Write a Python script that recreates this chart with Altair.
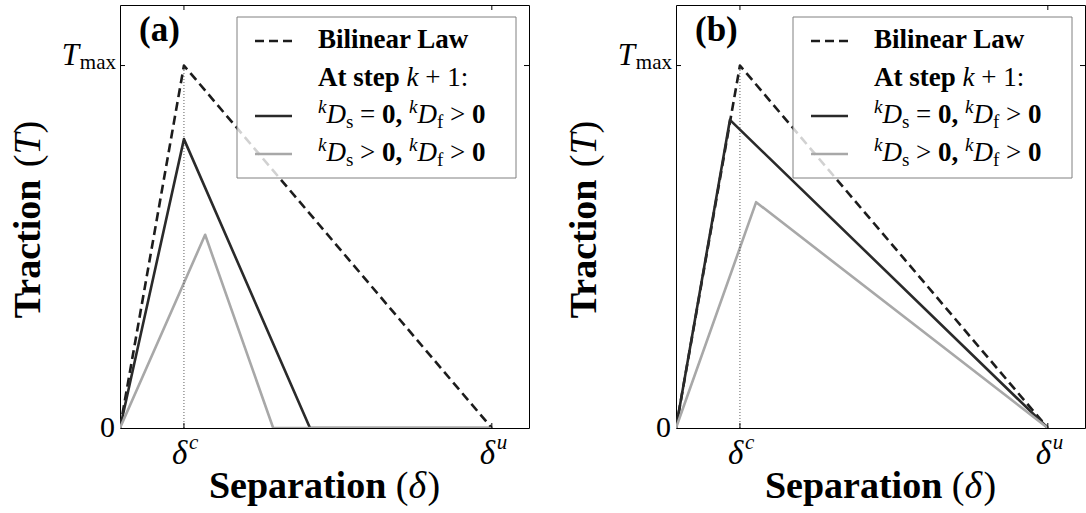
import altair as alt
import pandas as pd

FONT = "Liberation Serif"

# Separation in units of delta_u, traction in units of T_max
delta_c = 0.172
delta_u = 1.0
x_max = 1.1
y_max = 1.167

bilinear_sep = [0.0, 0.172, 1.0]
bilinear_trac = [0.0, 1.0, 0.0]

# (a): undamaged stiffness vs damaged stiffness
a_stiff_sep = [0.0, 0.172, 0.511, 1.0]
a_stiff_trac = [0.0, 0.797, 0.0, 0.0]
a_soft_sep = [0.0, 0.229, 0.412, 1.0]
a_soft_trac = [0.0, 0.533, 0.0, 0.0]

# (b)
b_stiff_sep = [0.0, 0.145, 1.0]
b_stiff_trac = [0.0, 0.850, 0.0]
b_soft_sep = [0.0, 0.2155, 1.0]
b_soft_trac = [0.0, 0.623, 0.0]

x_tick_values = [delta_c, delta_u]
x_tick_sups = ["c", "u"]

W, H = 409, 423
DASHED = "#1c1c1c"
DARK = "#2a2a2a"
GREY = "#a8a8a8"

# advance widths (per 1000 em) used to chain mixed-style text runs
_REG = {" ": 250, "(": 333, ")": 333, ",": 250, ":": 278, "+": 564, "=": 564, ">": 564,
        "0": 500, "1": 500, "a": 444, "m": 778, "x": 500, "s": 389, "f": 333}
_BOLD = {" ": 250, "(": 333, ")": 333, ",": 250, ":": 333, "0": 500, "A": 722, "B": 667,
         "L": 667, "S": 556, "T": 667, "a": 500, "c": 444, "e": 444, "i": 278, "l": 278,
         "n": 556, "o": 500, "p": 556, "r": 444, "s": 389, "t": 333, "w": 722}
_ITAL = {"T": 556, "D": 722, "k": 444, "c": 444, "u": 500, "δ": 500}
_TABLES = {"r": _REG, "b": _BOLD, "i": _ITAL}


def run_width(text, style, size):
    table = _TABLES[style]
    return sum(table.get(ch, 500) for ch in text) / 1000.0 * size


_one = pd.DataFrame({"k": [0]})


def text_run(text, x, y, size, style, angle=0):
    kw = dict(text=text, font=FONT, fontSize=size, align="left",
              baseline="alphabetic", color="black")
    if style == "b":
        kw["fontWeight"] = "bold"
    if style == "i":
        kw["fontStyle"] = "italic"
    if angle:
        kw["angle"] = angle
    return alt.Chart(_one).mark_text(**kw).encode(x=alt.value(float(x)), y=alt.value(float(y)))


def rich(parts, x0, y0, anchor="left", vertical=False):
    """parts: (text, style, size, baseline shift); spaces only advance the pen."""
    total = sum(run_width(t, s, z) for t, s, z, _ in parts)
    pos = -total / 2 if anchor == "center" else 0.0
    layers = []
    for t, s, z, shift in parts:
        core = t.strip(" ")
        lead = len(t) - len(t.lstrip(" "))
        pos += run_width(" " * lead, s, z)
        if core:
            if vertical:
                layers.append(text_run(core, x0 + shift, y0 - pos, z, s, angle=270))
            else:
                layers.append(text_run(core, x0 + pos, y0 + shift, z, s))
        pos += run_width(t[lead:], s, z)
    return layers


LEG_MAIN, LEG_SMALL = 27, 19


def legend_layers():
    layers = [
        alt.Chart(_one).mark_rect(fill="white", fillOpacity=0.8, stroke="#808080",
                                  strokeWidth=1).encode(
            x=alt.value(117), x2=alt.value(396), y=alt.value(12), y2=alt.value(173)),
        alt.Chart(_one).mark_rule(color=DASHED, strokeWidth=2.6, strokeDash=[9, 5]).encode(
            x=alt.value(135), x2=alt.value(172), y=alt.value(36)),
        alt.Chart(_one).mark_rule(color=DARK, strokeWidth=2.6).encode(
            x=alt.value(135), x2=alt.value(172), y=alt.value(111)),
        alt.Chart(_one).mark_rule(color=GREY, strokeWidth=2.6).encode(
            x=alt.value(135), x2=alt.value(172), y=alt.value(149)),
    ]
    tx = 198
    layers += rich([("Bilinear Law", "b", LEG_MAIN, 0)], tx, 43)
    layers += rich([("At step ", "b", LEG_MAIN, 0), ("k", "i", LEG_MAIN, 0),
                    (" + 1:", "r", LEG_MAIN, 0)], tx, 81)
    for rel, base in (("=", 118), (">", 156)):
        layers += rich([("k", "i", LEG_SMALL, -10), ("D", "i", LEG_MAIN, 0),
                        ("s", "r", LEG_SMALL, 5), (f" {rel} ", "r", LEG_MAIN, 0),
                        ("0,", "b", LEG_MAIN, 0), (" ", "r", LEG_MAIN, 0),
                        ("k", "i", LEG_SMALL, -10), ("D", "i", LEG_MAIN, 0),
                        ("f", "r", LEG_SMALL, 5), (" > ", "r", LEG_MAIN, 0),
                        ("0", "b", LEG_MAIN, 0)], tx, base)
    return layers


def panel(letter, stiff_sep, stiff_trac, soft_sep, soft_trac):
    xs = alt.Scale(domain=[0, x_max], nice=False, zero=False)
    ys = alt.Scale(domain=[0, y_max], nice=False, zero=False)
    X = alt.X("x:Q", scale=xs, axis=None)
    Y = alt.Y("y:Q", scale=ys, axis=None)

    def curve(sep, trac, color, dash=None):
        df = pd.DataFrame({"x": sep, "y": trac, "i": list(range(len(sep)))})
        kw = dict(color=color, strokeWidth=2.6, clip=True, strokeJoin="round")
        if dash:
            kw["strokeDash"] = dash
        return alt.Chart(df).mark_line(**kw).encode(x=X, y=Y, order="i:Q")

    guide = alt.Chart(pd.DataFrame({"x": [delta_c], "y": [0.0], "y2": [1.0]})).mark_rule(
        color="#333333", strokeWidth=0.8, strokeDash=[1, 2]).encode(x=X, y=Y, y2="y2:Q")

    xt = alt.Chart(pd.DataFrame({"x": x_tick_values, "sup": x_tick_sups}))
    yt = alt.Chart(pd.DataFrame({"y": [1.0]}))
    ticks = [
        xt.mark_rule(color="black", strokeWidth=1).encode(x=X, y=alt.value(H), y2=alt.value(H - 5)),
        xt.mark_rule(color="black", strokeWidth=1).encode(x=X, y=alt.value(0), y2=alt.value(5)),
        yt.mark_rule(color="black", strokeWidth=1).encode(y=Y, x=alt.value(0), x2=alt.value(5)),
        yt.mark_rule(color="black", strokeWidth=1).encode(y=Y, x=alt.value(W), x2=alt.value(W - 5)),
    ]

    tick_labels = [
        xt.mark_text(text="δ", font=FONT, fontSize=33, fontStyle="italic", align="left",
                     baseline="alphabetic", dx=-12).encode(x=X, y=alt.value(H + 36)),
        xt.mark_text(font=FONT, fontSize=21, fontStyle="italic", align="left",
                     baseline="alphabetic", dx=5).encode(x=X, y=alt.value(H + 21), text="sup:N"),
        alt.Chart(pd.DataFrame({"y": [0.0]})).mark_text(
            text="0", font=FONT, fontSize=30, align="right", baseline="middle").encode(
            x=alt.value(-5), y=Y),
        yt.mark_text(text="T", font=FONT, fontSize=31, fontStyle="italic", align="right",
                     baseline="alphabetic", dy=-1).encode(x=alt.value(-41), y=Y),
        yt.mark_text(text="max", font=FONT, fontSize=21, align="right",
                     baseline="alphabetic", dy=3).encode(x=alt.value(-4), y=Y),
    ]

    titles = []
    titles += rich([("Separation", "b", 38, 0), (" (", "r", 38, 0), ("δ", "i", 38, 0),
                    (")", "r", 38, 0)], W / 2, H + 70, anchor="center")
    titles += rich([("Traction", "b", 38, 0), (" (", "r", 38, 0), ("T", "i", 38, 0),
                    (")", "r", 38, 0)], -80, H / 2 + 3, anchor="center", vertical=True)
    titles += [text_run(letter, 19, 36, 35, "b")]

    layers = [curve(bilinear_sep, bilinear_trac, DASHED, [9, 5]),
              curve(stiff_sep, stiff_trac, DARK),
              curve(soft_sep, soft_trac, GREY),
              guide] + ticks + legend_layers() + tick_labels + titles
    return alt.layer(*layers).properties(width=W, height=H)


chart = alt.hconcat(
    panel("(a)", a_stiff_sep, a_stiff_trac, a_soft_sep, a_soft_trac),
    panel("(b)", b_stiff_sep, b_stiff_trac, b_soft_sep, b_soft_trac),
    spacing=147, bounds="flush",
).properties(
    padding={"left": 9, "top": 4, "right": 0, "bottom": 0}
).configure_view(stroke="black", strokeWidth=1)

chart.save("out.html", embed_options={"renderer": "svg", "actions": False})
